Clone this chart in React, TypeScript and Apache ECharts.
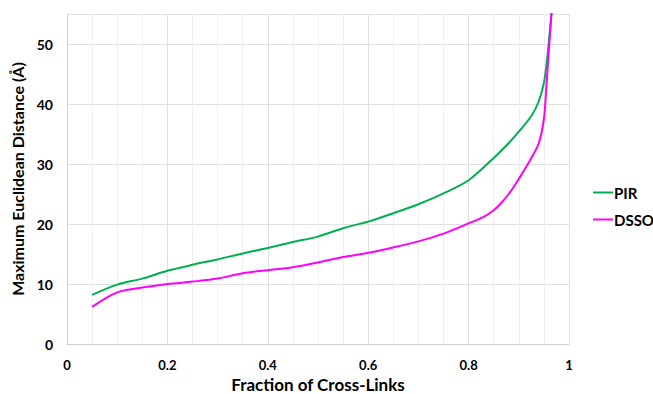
import React, { useEffect, useRef } from "react";
import * as echarts from "echarts";

const xTicks = [0, 0.2, 0.4, 0.6, 0.8, 1];
const yTicks = [0, 10, 20, 30, 40, 50];
const pirX = [0.05, 0.1, 0.15, 0.2, 0.25, 0.3, 0.35, 0.4, 0.45, 0.5, 0.55, 0.6, 0.65, 0.7, 0.75, 0.8, 0.85, 0.88, 0.9, 0.925, 0.94, 0.95, 0.955, 0.96, 0.965, 0.97];
const pirY = [8.2, 9.9, 10.9, 12.2, 13.2, 14.1, 15.1, 16.0, 17.0, 17.9, 19.3, 20.4, 21.8, 23.3, 25.1, 27.3, 31.0, 33.5, 35.4, 38.0, 40.5, 43.5, 46.5, 50.5, 55, 60];
const dssoX = [0.05, 0.1, 0.15, 0.2, 0.25, 0.3, 0.35, 0.4, 0.45, 0.5, 0.55, 0.6, 0.65, 0.7, 0.75, 0.8, 0.83, 0.85, 0.865, 0.88, 0.89, 0.9, 0.925, 0.94, 0.95, 0.955, 0.96, 0.965, 0.97];
const dssoY = [6.2, 8.6, 9.4, 10.0, 10.4, 10.9, 11.8, 12.3, 12.8, 13.6, 14.5, 15.2, 16.1, 17.1, 18.4, 20.1, 21.2, 22.3, 23.5, 25.0, 26.2, 27.5, 31.0, 33.5, 37.5, 43.0, 49.0, 55, 60];

const FONT = "Lato";

export default function App() {
  const ref = useRef<HTMLDivElement>(null);
  useEffect(() => {
    if (!ref.current) return;
    const chart = echarts.init(ref.current, null, { renderer: "svg" });
    chart.setOption({
      animation: false,
      textStyle: { fontFamily: FONT },
      grid: { left: 67, right: 84, top: 14, bottom: 50, containLabel: false, outerBoundsMode: "none" },
      legend: {
        orient: "vertical",
        left: 588,
        top: 180,
        itemWidth: 20,
        itemHeight: 10,
        itemGap: 12,
        icon: "path://M0,4L20,4L20,6L0,6Z",
        textStyle: { fontFamily: FONT, fontWeight: "bold", fontSize: 15, color: "#000", padding: [0, 0, 0, -4] },
        data: ["PIR", "DSSO"],
      },
      xAxis: {
        type: "value",
        min: 0,
        max: 1,
        interval: 0.2,
        name: "Fraction of Cross-Links",
        nameLocation: "middle",
        nameGap: 32,
        nameTextStyle: { fontFamily: FONT, fontWeight: "bold", fontSize: 17, color: "#000" },
        axisLine: { show: true, lineStyle: { color: "#d0d0d0", width: 1 } },
        axisTick: { show: false },
        axisLabel: {
          fontFamily: FONT, fontWeight: "bold", fontSize: 13, color: "#000", margin: 14,
          formatter: (v: number) => {
            const t = xTicks.find((x) => Math.abs(x - v) < 1e-6);
            return t === undefined ? "" : String(t);
          },
        },
        splitLine: { show: true, lineStyle: { color: "#e0e0e0", width: 1 } },
        minorTick: { show: false, splitNumber: 4 },
        minorSplitLine: { show: true, lineStyle: { color: "#efefef", width: 1 } },
      },
      yAxis: {
        type: "value",
        min: 0,
        max: 55,
        interval: 10,
        name: "Maximum Euclidean Distance (Å)",
        nameLocation: "middle",
        nameGap: 33,
        nameTextStyle: { fontFamily: FONT, fontWeight: "bold", fontSize: 16, color: "#000" },
        axisLine: { show: true, lineStyle: { color: "#d0d0d0", width: 1 } },
        axisTick: { show: false },
        axisLabel: {
          fontFamily: FONT, fontWeight: "bold", fontSize: 14, color: "#000", margin: 14,
          formatter: (v: number) => {
            const t = yTicks.find((y) => Math.abs(y - v) < 1e-6);
            return t === undefined ? "" : String(t);
          },
        },
        splitLine: { show: true, lineStyle: { color: "#e0e0e0", width: 1 } },
      },
      series: [
        {
          name: "PIR",
          type: "line",
          data: pirX.map((x, i) => [x, pirY[i]]),
          smooth: 0.3,
          showSymbol: false,
          clip: true,
          lineStyle: { color: "#00b050", width: 2 },
          itemStyle: { color: "#00b050" },
        },
        {
          name: "DSSO",
          type: "line",
          data: dssoX.map((x, i) => [x, dssoY[i]]),
          smooth: 0.3,
          showSymbol: false,
          clip: true,
          lineStyle: { color: "#ff00ff", width: 2 },
          itemStyle: { color: "#ff00ff" },
        },
      ],
    });
    return () => chart.dispose();
  }, []);
  return <div ref={ref} style={{ width: 653, height: 394, position: "absolute", left: 0, top: 0 }} />;
}
